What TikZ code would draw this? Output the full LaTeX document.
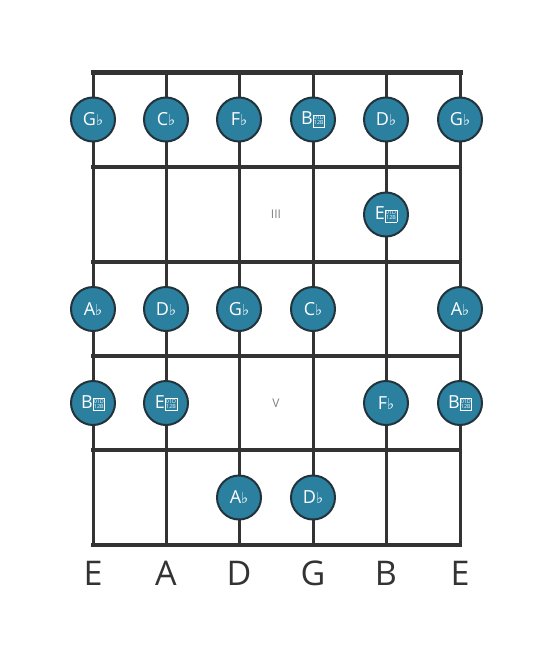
\documentclass[tikz,border=0pt]{standalone}
\usepackage{fontspec}
\setmainfont{Open Sans}
\newfontfamily\symfont{DejaVu Sans}
\definecolor{notefill}{HTML}{2B809F}
\definecolor{notedraw}{HTML}{22333B}
\definecolor{wood}{HTML}{333333}
\definecolor{fretnum}{HTML}{808080}
\newcommand\fl{{\symfont\fontsize{15}{15}\selectfont ♭}}
\newcommand\dfl{{\setlength\fboxsep{0.6pt}\setlength\fboxrule{0.5pt}\fbox{\fontsize{5.4}{5.4}\selectfont\begin{tabular}[b]{@{}c@{}}01D\\[-0.6pt]12B\end{tabular}}}}
\tikzset{
  stringline/.style={line width=3pt, color=wood},
  fretline/.style={line width=4pt, color=wood, line cap=rect},
  nutline/.style={line width=5pt, color=wood, line cap=rect},
  notec/.style={circle, minimum size=44pt, inner sep=0pt, fill=notefill, draw=notedraw, line width=2pt, text=white, font=\fontsize{18}{18}\selectfont},
  fretlabel/.style={text=fretnum, font=\fontsize{12}{12}\selectfont},
  strlabel/.style={text=wood, font=\fontsize{34}{34}\selectfont}
}
\begin{document}
\begin{tikzpicture}[x=1pt,y=-1pt]
\useasboundingbox (0,0) rectangle (553,656);
% coordinates
\foreach \i/\x in {1/93,2/166,3/239,4/313,5/386,6/460}{
  \coordinate (t\i) at (\x,72);
  \coordinate (b\i) at (\x,545);
}
\foreach \j/\y in {0/72,1/167,2/262,3/356,4/450,5/545}{
  \coordinate (fl\j) at (93,\y);
  \coordinate (fr\j) at (460,\y);
}
% strings
\foreach \i in {1,...,6}{ \draw[stringline] (t\i) -- (b\i); }
% frets
\draw[nutline] (fl0) -- (fr0);
\foreach \j in {1,...,5}{ \draw[fretline] (fl\j) -- (fr\j); }
% fret numbers
\node[fretlabel] (fIII) at (276,214.5) {III};
\node[fretlabel] (fV) at (276,403.5) {V};
% notes row 1
\node[notec] (n11) at (93,119.5) {G\fl};
\node[notec] (n12) at (166,119.5) {C\fl};
\node[notec] (n13) at (239,119.5) {F\fl};
\node[notec] (n14) at (313,119.5) {B\dfl};
\node[notec] (n15) at (386,119.5) {D\fl};
\node[notec] (n16) at (460,119.5) {G\fl};
% row 2
\node[notec] (n25) at (386,214.5) {E\dfl};
% row 3
\node[notec] (n31) at (93,309) {A\fl};
\node[notec] (n32) at (166,309) {D\fl};
\node[notec] (n33) at (239,309) {G\fl};
\node[notec] (n34) at (313,309) {C\fl};
\node[notec] (n36) at (460,309) {A\fl};
% row 4
\node[notec] (n41) at (93,403) {B\dfl};
\node[notec] (n42) at (166,403) {E\dfl};
\node[notec] (n45) at (386,403) {F\fl};
\node[notec] (n46) at (460,403) {B\dfl};
% row 5
\node[notec] (n53) at (239,497.5) {A\fl};
\node[notec] (n54) at (313,497.5) {D\fl};
% string names
\node[strlabel] (s1) at (93,573) {E};
\node[strlabel] (s2) at (166,573) {A};
\node[strlabel] (s3) at (239,573) {D};
\node[strlabel] (s4) at (313,573) {G};
\node[strlabel] (s5) at (386,573) {B};
\node[strlabel] (s6) at (460,573) {E};
\end{tikzpicture}
\end{document}
